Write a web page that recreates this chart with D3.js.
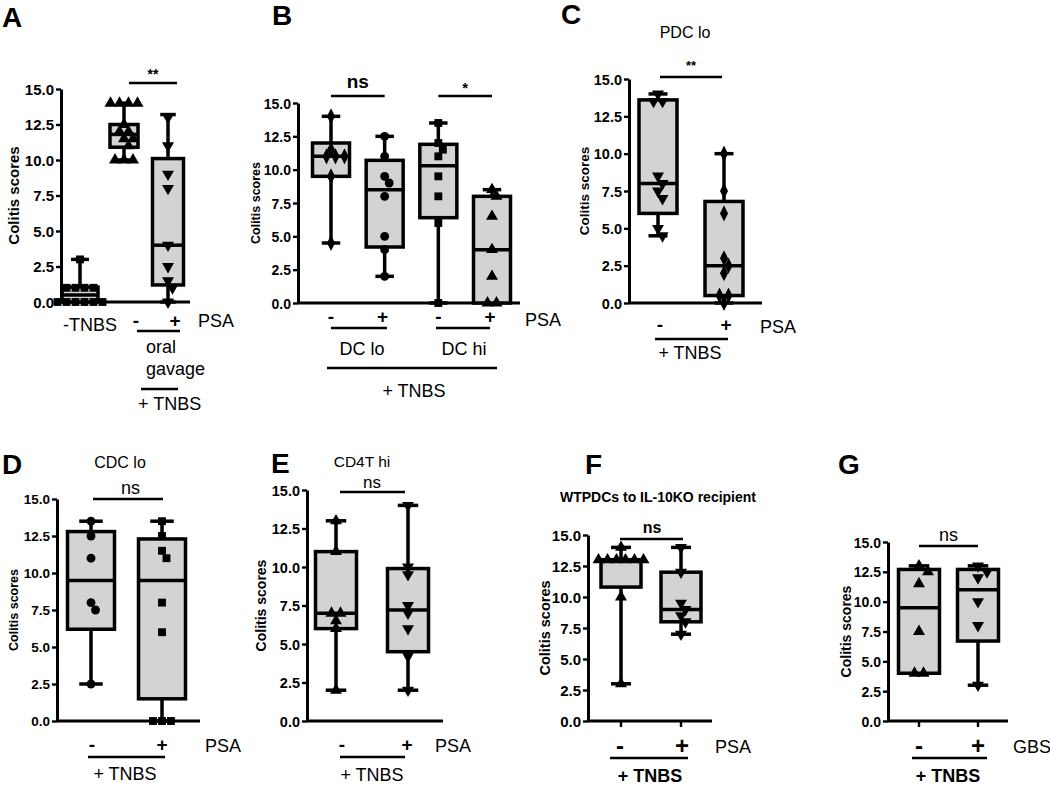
<!DOCTYPE html>
<html><head><meta charset="utf-8">
<script src="https://cdn.jsdelivr.net/npm/d3@7"></script>
<style>body{margin:0;background:#fff} text{font-family:"Liberation Sans",Arial,sans-serif;fill:#000}</style>
</head><body><svg id="c" width="1050" height="787"></svg>
<script>
const yTicks = [0, 2.5, 5, 7.5, 10, 12.5, 15];
const yLabel = "Colitis scores";

// Panel A
const A_cats = ["-TNBS", "-", "+"];
const A_box = [[0, 0, 0.5, 1.05, 3], [10, 10.9, 11.8, 12.5, 14], [0, 1.2, 4, 10.1, 13.2]];
const A_pts_noTNBS = [0, 0, 0, 0, 0, 0, 1, 1, 1, 1, 3];
const A_pts_ctrl = [14, 14, 14, 14, 12.5, 12, 12, 11.5, 11.5, 11, 10, 10, 10];
const A_pts_psa = [13, 11, 9, 8, 4, 2.5, 1.5, 1, 0];

// Panel B
const B_cats = ["-", "+", "-", "+"];
const B_sub = ["DC lo", "DC hi"];
const B_box = [[4.5, 9.5, 11, 12, 14], [2, 4.2, 8.5, 10.7, 12.5], [0, 6.4, 10.3, 11.9, 13.5], [0, 0, 4, 8, 8.5]];
const B_pts_loNeg = [14, 11.5, 11, 11, 11, 9.5, 4.5];
const B_pts_loPos = [12.5, 11, 9.5, 9, 8, 5, 4, 2];
const B_pts_hiNeg = [13.5, 12, 11.5, 11, 9.5, 8, 6, 0];
const B_pts_hiPos = [8.5, 8, 6.5, 4, 2, 0, 0];

// Panel C
const C_cats = ["-", "+"];
const C_box = [[4.5, 6, 8, 13.6, 14], [0, 0.5, 2.5, 6.8, 10]];
const C_pts_neg = [14, 13.5, 13.5, 8.5, 8, 7.5, 7, 5, 4.5];
const C_pts_pos = [10, 7.5, 6, 3, 2.5, 2, 0.5, 0.5, 0];

// Panel D
const D_cats = ["-", "+"];
const D_box = [[2.5, 6.2, 9.5, 12.8, 13.5], [0, 1.5, 9.5, 12.3, 13.5]];
const D_pts_neg = [13.5, 12.5, 11, 8, 7.5, 2.5];
const D_pts_pos = [13.5, 12.5, 11.5, 11, 8, 6, 0, 0, 0];

// Panel E
const E_cats = ["-", "+"];
const E_box = [[2, 6, 7, 11, 13], [2, 4.5, 7.2, 9.9, 14]];
const E_pts_neg = [13, 11, 7, 7, 6.5, 6, 2];
const E_pts_pos = [14, 10, 9.5, 7.5, 7, 6, 4.2, 2];

// Panel F
const F_cats = ["-", "+"];
const F_box = [[3, 10.8, 13, 13, 14], [7, 8, 9, 12, 14]];
const F_pts_neg = [14, 13, 13, 13, 13, 13, 13, 10, 3];
const F_pts_pos = [14, 12, 9.5, 9, 8.5, 8, 7];

// Panel G
const G_cats = ["-", "+"];
const G_box = [[4, 4, 9.5, 12.7, 13], [3, 6.7, 11, 12.7, 13]];
const G_pts_neg = [13, 12.5, 11.5, 7.5, 4, 4];
const G_pts_pos = [13, 12.5, 12, 10, 8, 3];

const svg = d3.select("#c");
const FONT = '"Liberation Sans", Arial, sans-serif';

function txt(x, y, s, fs, opt = {}) {
  const t = svg.append("text").attr("x", x).attr("y", y).text(s)
    .attr("font-size", fs).attr("font-family", FONT)
    .attr("text-anchor", opt.anchor || "start")
    .attr("font-weight", opt.bold ? "bold" : "normal");
  return t;
}
function hline(x1, x2, y, w = 2.4) {
  svg.append("line").attr("x1", x1).attr("x2", x2).attr("y1", y).attr("y2", y)
    .attr("stroke", "#000").attr("stroke-width", w);
}

const symMap = {
  up: d3.symbolTriangle, down: d3.symbolTriangle, circle: d3.symbolCircle,
  square: d3.symbolSquare, diamond: d3.symbolDiamond
};

function swarm(vals, y, s) {
  const placed = [];
  const byVal = d3.groups(vals, v => v).sort((a, b) => b[0] - a[0]);
  for (const [v, arr] of byVal) {
    const py = y(v), k = arr.length;
    const base = d3.range(k).map(i => (i - (k - 1) / 2) * s);
    const shifts = [0];
    for (let j = 1; j < 10; j++) shifts.push(j * s / 2, -j * s / 2);
    let done = false;
    for (const sh of shifts) {
      const xs = base.map(b => b + sh);
      const ok = xs.every(x => placed.every(p => Math.hypot(p.dx - x, p.py - py) >= s * 0.85));
      if (ok) { xs.forEach(x => placed.push({ v, dx: x, py })); done = true; break; }
    }
    if (!done) base.forEach(x => placed.push({ v, dx: x, py }));
  }
  return placed;
}

function panel(cfg) {
  const y = d3.scaleLinear([0, 15], [cfg.yBot, cfg.yTop]);
  const x = d3.scalePoint(d3.range(cfg.boxes.length), cfg.xr);
  const g = svg.append("g");
  // x axis line
  g.append("line").attr("x1", cfg.ax).attr("x2", cfg.xEnd).attr("y1", y(0)).attr("y2", y(0))
    .attr("stroke", "#000").attr("stroke-width", 3);
  if (cfg.xTicks) {
    cfg.boxes.forEach((b, i) => g.append("line").attr("x1", x(i)).attr("x2", x(i))
      .attr("y1", y(0)).attr("y2", y(0) + 6).attr("stroke", "#000").attr("stroke-width", 2.4));
  }
  // boxes
  cfg.boxes.forEach((b, i) => {
    const [mn, q1, md, q3, mx] = b;
    const cx = x(i), w = Array.isArray(cfg.w) ? cfg.w[i] : cfg.w, cw = w * 0.5;
    const bg = g.append("g").attr("stroke", "#000").attr("stroke-width", 3.5);
    bg.append("line").attr("x1", cx).attr("x2", cx).attr("y1", y(mx)).attr("y2", y(q3));
    bg.append("line").attr("x1", cx).attr("x2", cx).attr("y1", y(q1)).attr("y2", y(mn));
    bg.append("line").attr("x1", cx - cw / 2).attr("x2", cx + cw / 2).attr("y1", y(mx)).attr("y2", y(mx));
    if (mn < q1) bg.append("line").attr("x1", cx - cw / 2).attr("x2", cx + cw / 2).attr("y1", y(mn)).attr("y2", y(mn));
    bg.append("rect").attr("x", cx - w / 2).attr("y", y(q3)).attr("width", w)
      .attr("height", Math.max(0, y(q1) - y(q3))).attr("fill", "#d3d3d3");
    bg.append("line").attr("x1", cx - w / 2).attr("x2", cx + w / 2).attr("y1", y(md)).attr("y2", y(md));
    // points
    const pts = swarm(cfg.pts[i], y, cfg.ms || 9);
    const sym = d3.symbol(symMap[cfg.marks[i]]).size(cfg.msz || 62);
    g.append("g").selectAll("path").data(pts).join("path")
      .attr("d", sym)
      .attr("transform", d => `translate(${cx + d.dx},${d.py})` + (cfg.marks[i] === "down" ? " rotate(180)" : "") + (cfg.marks[i] === "diamond" ? " scale(0.95,1.1)" : ""))
      .attr("fill", "#000");
  });
  // y axis
  const axG = g.append("g").attr("transform", `translate(${cfg.ax},0)`)
    .call(d3.axisLeft(y).tickValues(yTicks).tickFormat(d3.format(".1f")).tickSize(5).tickSizeOuter(0).tickPadding(2));
  axG.select(".domain").attr("stroke-width", 3);
  axG.selectAll(".tick line").attr("stroke-width", 2.4);
  axG.selectAll(".tick text").attr("font-size", cfg.tickFs).attr("font-weight", "bold")
    .attr("font-family", FONT).attr("dy", "0.36em");
  // y label
  svg.append("text").attr("transform", `translate(${cfg.labX},${(cfg.yTop + cfg.yBot) / 2}) rotate(-90)`)
    .attr("text-anchor", "middle").attr("dy", "0.35em").attr("font-size", cfg.labFs)
    .attr("font-weight", "bold").attr("font-family", FONT).text(yLabel);
  // significance bracket
  const s = cfg.sig;
  hline(x(s.a) + (s.o1 || 0), x(s.b) + (s.o2 || 0), s.y, 2.4);
  txt((x(s.a) + x(s.b)) / 2 + (s.tx || 0), s.ty, s.label, s.fs, { anchor: "middle", bold: s.bold });
  return x;
}

// ---------- Panel A ----------
txt(2, 27, "A", 28, { bold: true });
const xA = panel({
  ax: 61, yTop: 89, yBot: 302, xEnd: 190, xr: [80, 168], w: [36, 28, 31],
  boxes: A_box, pts: [A_pts_noTNBS, A_pts_ctrl, A_pts_psa], marks: ["square", "up", "down"],
  tickFs: 15, labX: 14, labFs: 15,
  sig: { a: 1, b: 2, y: 83, ty: 79, label: "**", fs: 14, bold: true, o1: 5, o2: 9, tx: 7 }
});
txt(90, 331, A_cats[0], 18, { anchor: "middle" });
txt(xA(1) + 12, 327, A_cats[1], 19, { anchor: "middle", bold: true });
txt(xA(2) + 7, 327, A_cats[2], 19, { anchor: "middle", bold: true });
txt(198, 327, "PSA", 18);
hline(137, 180, 331);
txt(146, 353, "oral", 18);
txt(146, 375, "gavage", 18);
hline(141, 178, 389);
txt(138, 410, "+ TNBS", 18);

// ---------- Panel B ----------
txt(272, 25, "B", 28, { bold: true });
const xB = panel({
  ax: 298, yTop: 103, yBot: 303, xEnd: 520, xr: [331, 492], w: 37,
  boxes: B_box, pts: [B_pts_loNeg, B_pts_loPos, B_pts_hiNeg, B_pts_hiPos], marks: ["diamond", "circle", "square", "up"],
  tickFs: 14, labX: 256, labFs: 12.5,
  sig: { a: 0, b: 1, y: 96, ty: 88, label: "ns", fs: 19, bold: true, tx: 0 }
});
// second bracket in B
hline(xB(2), xB(3), 96, 2.4);
txt((xB(2) + xB(3)) / 2, 93, "*", 15, { anchor: "middle", bold: true });
[0, 1, 2, 3].forEach(i => txt(xB(i) + (i % 2 === 0 ? 0 : -2), 323, B_cats[i], 19, { anchor: "middle", bold: true }));
txt(525, 326, "PSA", 18);
hline(331, 387, 328);
hline(436, 490, 328);
txt(362, 355, B_sub[0], 18, { anchor: "middle" });
txt(464, 355, B_sub[1], 18, { anchor: "middle" });
hline(327, 497, 368);
txt(414, 397, "+ TNBS", 18, { anchor: "middle" });

// ---------- Panel C ----------
txt(561, 24, "C", 28, { bold: true });
txt(685, 38, "PDC lo", 16, { anchor: "middle" });
const xC = panel({
  ax: 629, yTop: 79, yBot: 303, xEnd: 762, xr: [658, 724], w: 38,
  boxes: C_box, pts: [C_pts_neg, C_pts_pos], marks: ["down", "diamond"],
  tickFs: 14.5, labX: 584, labFs: 13.5,
  sig: { a: 0, b: 1, y: 77, ty: 70, label: "**", fs: 13, bold: true, o1: 2, o2: -2, tx: 0 }
});
txt(660, 331, C_cats[0], 19, { anchor: "middle", bold: true });
txt(726, 331, C_cats[1], 19, { anchor: "middle", bold: true });
txt(760, 333, "PSA", 18);
hline(655, 728, 339);
txt(690, 359, "+ TNBS", 18, { anchor: "middle" });

// ---------- Panel D ----------
txt(2, 474, "D", 28, { bold: true });
txt(120, 468, "CDC lo", 16, { anchor: "middle" });
const xD = panel({
  ax: 57, yTop: 499, yBot: 721, xEnd: 200, xr: [91, 162], w: 47,
  boxes: D_box, pts: [D_pts_neg, D_pts_pos], marks: ["circle", "square"],
  tickFs: 13.5, labX: 14, labFs: 12.5,
  sig: { a: 0, b: 1, y: 499, ty: 494, label: "ns", fs: 18, bold: false, o1: 2, o2: 1, tx: 4 }
});
txt(92, 751, D_cats[0], 19, { anchor: "middle", bold: true });
txt(162, 751, D_cats[1], 19, { anchor: "middle", bold: true });
txt(205, 752, "PSA", 18);
hline(88, 165, 757);
txt(125, 780, "+ TNBS", 18, { anchor: "middle" });

// ---------- Panel E ----------
txt(271, 473, "E", 28, { bold: true });
txt(362, 467, "CD4T hi", 15.5, { anchor: "middle" });
const xE = panel({
  ax: 307, yTop: 490, yBot: 721, xEnd: 443, xr: [336, 408], w: 41,
  boxes: E_box, pts: [E_pts_neg, E_pts_pos], marks: ["up", "down"],
  tickFs: 14.5, labX: 261, labFs: 14,
  sig: { a: 0, b: 1, y: 492, ty: 488, label: "ns", fs: 17, bold: false, o1: 4, o2: -3, tx: 0 }
});
txt(342, 751, E_cats[0], 19, { anchor: "middle", bold: true });
txt(407, 751, E_cats[1], 19, { anchor: "middle", bold: true });
txt(435, 752, "PSA", 18);
hline(340, 405, 757);
txt(372, 781, "+ TNBS", 18, { anchor: "middle" });

// ---------- Panel F ----------
txt(585, 474, "F", 28, { bold: true });
txt(658, 502, "WTPDCs to IL-10KO recipient", 14, { anchor: "middle", bold: true });
const xF = panel({
  ax: 588, yTop: 535, yBot: 721, xEnd: 712, xr: [621, 681], w: 40, xTicks: true,
  boxes: F_box, pts: [F_pts_neg, F_pts_pos], marks: ["up", "down"],
  tickFs: 15, labX: 545, labFs: 14.5,
  sig: { a: 0, b: 1, y: 539, ty: 533, label: "ns", fs: 16, bold: true, o1: -1, o2: 2, tx: 1 }
});
txt(620, 754, F_cats[0], 24, { anchor: "middle", bold: true });
txt(682, 754, F_cats[1], 24, { anchor: "middle", bold: true });
txt(715, 753, "PSA", 18);
hline(610, 688, 758);
txt(650, 782, "+ TNBS", 18, { anchor: "middle", bold: true });

// ---------- Panel G ----------
txt(838, 474, "G", 28, { bold: true });
const xG = panel({
  ax: 888, yTop: 542, yBot: 721, xEnd: 1008, xr: [919, 978], w: 41, xTicks: true,
  boxes: G_box, pts: [G_pts_neg, G_pts_pos], marks: ["up", "down"],
  tickFs: 14, labX: 846, labFs: 14,
  sig: { a: 0, b: 1, y: 546, ty: 541, label: "ns", fs: 18, bold: false, tx: 0 }
});
txt(919, 754, G_cats[0], 24, { anchor: "middle", bold: true });
txt(978, 754, G_cats[1], 24, { anchor: "middle", bold: true });
txt(1013, 753, "GBS", 18);
hline(912, 987, 758);
txt(948, 782, "+ TNBS", 18, { anchor: "middle", bold: true });
</script></body></html>
